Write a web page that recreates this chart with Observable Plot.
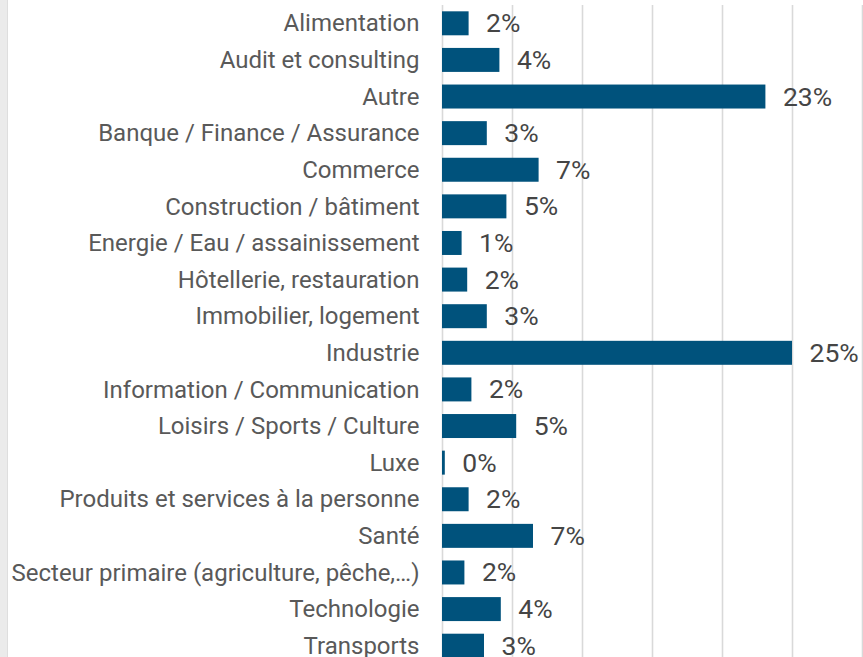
<!DOCTYPE html>
<html>
<head>
<meta charset="utf-8">
<script src="https://cdn.jsdelivr.net/npm/d3@7"></script>
<script src="https://cdn.jsdelivr.net/npm/@observablehq/plot@0.6"></script>
<style>
  html, body { margin: 0; padding: 0; background: #fff; overflow: hidden; }
  #wrap { position: relative; width: 863px; height: 657px; overflow: hidden; }
  #edge { position: absolute; left: 0; top: 0; width: 7px; height: 657px; background: #ebebeb; border-right: 1px solid #dedede; }
  #chart { position: absolute; left: 0; top: 0; }
</style>
</head>
<body>
<div id="wrap"><div id="chart"></div><div id="edge"></div></div>
<script>
const categories = [
  "Alimentation",
  "Audit et consulting",
  "Autre",
  "Banque / Finance / Assurance",
  "Commerce",
  "Construction / bâtiment",
  "Energie / Eau / assainissement",
  "Hôtellerie, restauration",
  "Immobilier, logement",
  "Industrie",
  "Information / Communication",
  "Loisirs / Sports / Culture",
  "Luxe",
  "Produits et services à la personne",
  "Santé",
  "Secteur primaire (agriculture, pêche,…)",
  "Technologie",
  "Transports"
];
const values = [1.9, 4.1, 23.1, 3.2, 6.9, 4.6, 1.4, 1.8, 3.2, 25.0, 2.1, 5.3, 0.2, 1.9, 6.5, 1.6, 4.2, 3.0];
const valueLabels = ["2%", "4%", "23%", "3%", "7%", "5%", "1%", "2%", "3%", "25%", "2%", "5%", "0%", "2%", "7%", "2%", "4%", "3%"];
const gridTicks = [0, 5, 10, 15, 20, 25, 30];

const data = categories.map((c, i) => ({category: c, value: values[i], label: valueLabels[i]}));

const chart = Plot.plot({
  width: 863,
  height: 664,
  marginTop: 5,
  marginBottom: 0,
  marginLeft: 442,
  marginRight: 1,
  style: {fontFamily: "Roboto, sans-serif", background: "transparent"},
  x: {domain: [0, 30], axis: null},
  y: {domain: categories, paddingInner: 0.345, paddingOuter: 0.1725, round: false, label: null, tickSize: 0, tickPadding: 23},
  marks: [
    Plot.ruleX(gridTicks, {stroke: "#d9d9d9", strokeWidth: 1.6}),
    Plot.barX(data, {x: "value", y: "category", fill: "#00527c"}),
    Plot.text(data, {x: "value", y: "category", text: "label", dx: 17, textAnchor: "start", fontSize: 26.5, fill: "#454545"}),
    Plot.axisY({tickSize: 0, tickPadding: 23, fontSize: 24, color: "#595959", label: null})
  ]
});
document.getElementById("chart").appendChild(chart);
</script>
</body>
</html>
